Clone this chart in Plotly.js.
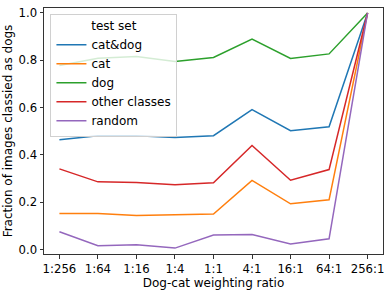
<!DOCTYPE html>
<html>
<head>
<meta charset="utf-8">
<script src="https://cdn.plot.ly/plotly-3.0.1.min.js"></script>
<style>html,body{margin:0;padding:0;background:#fff;}#chart{width:391px;height:292px;}</style>
</head>
<body>
<div id="chart"></div>
<script>
const ratios = ["1:256", "1:64", "1:16", "1:4", "1:1", "4:1", "16:1", "64:1", "256:1"];
const catDog = [0.464, 0.481, 0.481, 0.474, 0.481, 0.591, 0.502, 0.519, 1.0];
const cat = [0.152, 0.152, 0.144, 0.147, 0.150, 0.292, 0.193, 0.210, 1.0];
const dog = [0.778, 0.809, 0.816, 0.795, 0.812, 0.890, 0.808, 0.827, 1.0];
const otherClasses = [0.341, 0.286, 0.283, 0.274, 0.282, 0.440, 0.293, 0.338, 1.0];
const randomSet = [0.075, 0.016, 0.020, 0.006, 0.061, 0.063, 0.023, 0.045, 1.0];
const seriesNames = ["cat&dog", "cat", "dog", "other classes", "random"];
const seriesColors = ["#1f77b4", "#ff7f0e", "#2ca02c", "#d62728", "#9467bd"];
const seriesValues = [catDog, cat, dog, otherClasses, randomSet];

const font = {family: "DejaVu Sans", size: 12, color: "#000"};
const tickFont = {family: "DejaVu Sans", size: 11.7, color: "#000"};
const traces = seriesValues.map((vals, i) => ({
  x: ratios, y: vals, type: "scatter", mode: "lines", name: seriesNames[i],
  line: {color: seriesColors[i], width: 1.5}
}));

const layout = {
  width: 391, height: 292,
  margin: {l: 44.3, r: 8.3, t: 8.3, b: 38.3},
  paper_bgcolor: "#fff", plot_bgcolor: "#fff",
  font: font,
  showlegend: true,
  legend: {
    x: 0.019, y: 0.977, xanchor: "left", yanchor: "top",
    bgcolor: "rgba(255,255,255,0.8)", bordercolor: "#d0d0d0", borderwidth: 1,
    font: font,
    title: {text: "test set", side: "top center", font: font},
    itemwidth: 30, tracegroupgap: 0
  },
  xaxis: {
    type: "category", range: [-0.4, 8.4],
    showline: true, mirror: true, linecolor: "#333", linewidth: 1,
    ticks: "outside", ticklen: 3.5, tickcolor: "#333",
    showgrid: false, zeroline: false, tickfont: tickFont,
    title: {text: "Dog-cat weighting ratio", font: font, standoff: 3}
  },
  yaxis: {
    range: [-0.019, 1.021], tick0: 0, dtick: 0.2, tickformat: ".1f",
    showline: true, mirror: true, linecolor: "#333", linewidth: 1,
    ticks: "outside", ticklen: 3.5, tickcolor: "#333",
    showgrid: false, zeroline: false, tickfont: tickFont,
    title: {text: "Fraction of images classied as dogs", font: font, standoff: 3}
  }
};
Plotly.newPlot("chart", traces, layout, {displayModeBar: false, staticPlot: true});
</script>
</body>
</html>
